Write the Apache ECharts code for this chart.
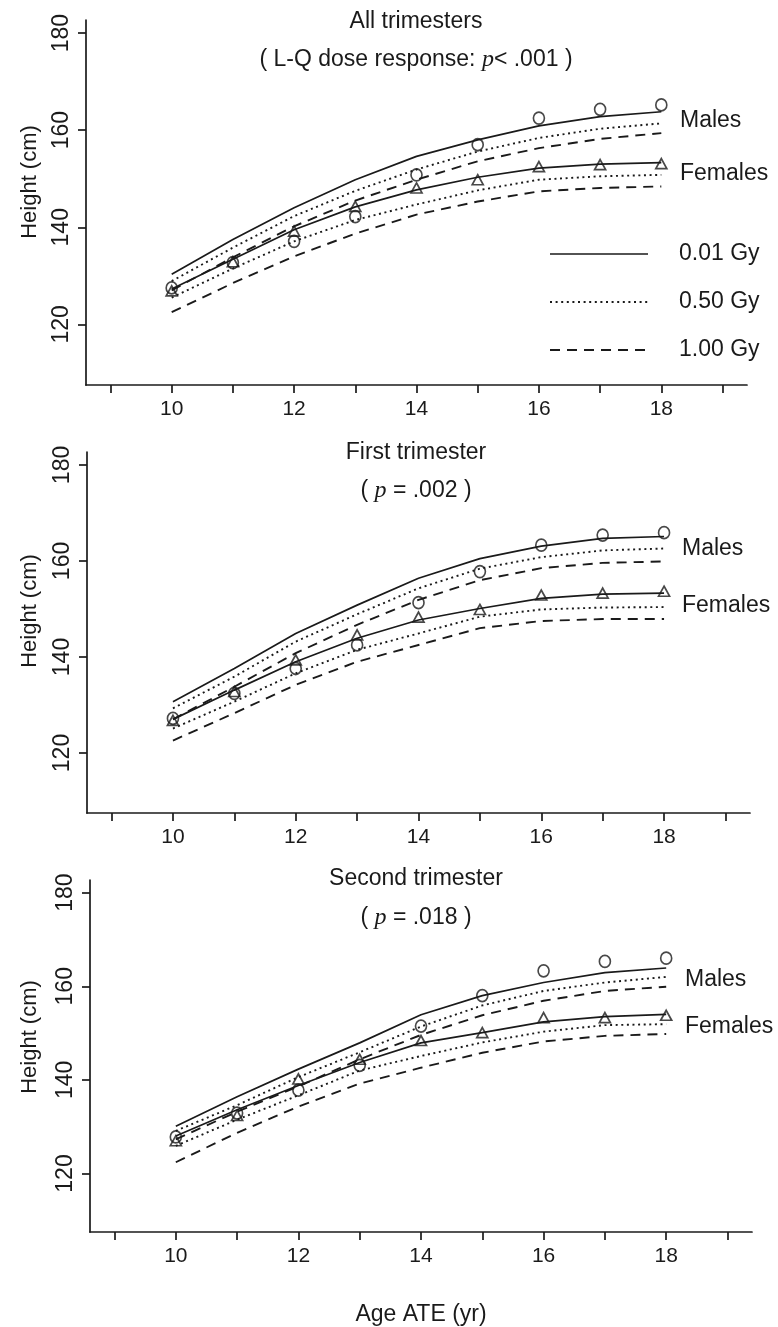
<!DOCTYPE html>
<html>
<head>
<meta charset="utf-8">
<script src="https://cdn.jsdelivr.net/npm/echarts@6/dist/echarts.min.js"></script>
<style>
html,body{margin:0;padding:0;background:#fff;}
#chart{width:778px;height:1327px;}
</style>
</head>
<body>
<div id="chart"></div>
<script>
// ---- data ----
const ages = [10, 11, 12, 13, 14, 15, 16, 17, 18];
const xTickValues = [9, 10, 11, 12, 13, 14, 15, 16, 17, 18, 19];
const xLabelValues = [10, 12, 14, 16, 18];
const yTickValues = [120, 140, 160, 180];

const panelTitles = ['All trimesters', 'First trimester', 'Second trimester'];
const panelSubtitles = ['( L-Q dose response: {i|p}< .001 )', '( {i|p} = .002 )', '( {i|p} = .018 )'];
const doseLabels = ['0.01 Gy', '0.50 Gy', '1.00 Gy'];
const sexLabels = ['Males', 'Females'];

// Panel 1: all trimesters
const p1MaleObs     = [127.5, 132.7, 137.1, 142.2, 150.8, 157.0, 162.5, 164.3, 165.2];
const p1FemaleObs   = [126.9, 132.9, 139.2, 144.3, 148.1, 149.8, 152.5, 152.9, 153.1];
const p1Male001     = [130.3, 137.5, 144.0, 149.8, 154.6, 158.0, 160.9, 162.8, 163.8];
const p1Male050     = [128.9, 135.8, 142.3, 147.5, 151.9, 155.6, 158.4, 160.3, 161.4];
const p1Male100     = [127.0, 133.8, 140.2, 145.5, 149.8, 153.6, 156.3, 158.2, 159.4];
const p1Female001   = [127.3, 133.4, 139.5, 144.2, 147.7, 150.3, 152.2, 153.0, 153.3];
const p1Female050   = [125.5, 131.5, 137.1, 141.5, 144.7, 147.6, 149.8, 150.5, 150.8];
const p1Female100   = [122.5, 128.5, 134.0, 138.7, 142.6, 145.3, 147.4, 148.1, 148.4];

// Panel 2: first trimester
const p2MaleObs     = [127.2, 132.4, 137.6, 142.5, 151.3, 157.8, 163.3, 165.4, 165.9];
const p2FemaleObs   = [126.8, 132.8, 139.4, 144.6, 148.3, 149.9, 152.9, 153.3, 153.7];
const p2Male001     = [130.7, 137.6, 144.9, 150.8, 156.4, 160.5, 163.1, 164.7, 165.1];
const p2Male050     = [129.3, 135.9, 143.2, 148.9, 154.3, 158.4, 160.8, 162.2, 162.6];
const p2Male100     = [127.0, 133.8, 140.8, 146.7, 151.9, 156.0, 158.5, 159.6, 159.9];
const p2Female001   = [127.0, 133.1, 139.0, 143.9, 147.7, 150.1, 152.2, 153.1, 153.3];
const p2Female050   = [125.1, 130.7, 136.6, 141.5, 144.9, 148.4, 149.9, 150.3, 150.4];
const p2Female100   = [122.6, 128.3, 134.2, 139.0, 142.5, 146.0, 147.5, 147.9, 147.9];

// Panel 3: second trimester
const p3MaleObs     = [127.8, 132.9, 137.8, 143.1, 151.5, 158.0, 163.3, 165.3, 166.0];
const p3FemaleObs   = [127.0, 132.4, 140.2, 144.4, 148.4, 150.1, 153.3, 153.3, 153.8];
const p3Male001     = [130.1, 136.4, 142.3, 147.9, 153.9, 158.0, 160.8, 162.9, 163.9];
const p3Male050     = [129.1, 134.6, 140.6, 145.9, 151.4, 155.9, 159.0, 160.8, 162.0];
const p3Male100     = [127.3, 133.2, 138.6, 144.4, 149.6, 153.8, 156.9, 159.0, 159.9];
const p3Female001   = [128.0, 133.6, 138.8, 143.7, 147.9, 150.1, 152.4, 153.5, 154.0];
const p3Female050   = [125.9, 131.5, 136.7, 142.0, 145.1, 148.0, 150.3, 151.7, 151.9];
const p3Female100   = [122.4, 128.7, 134.3, 139.2, 142.6, 145.8, 148.2, 149.4, 149.8];

// ---- styling / layout ----
const INK = '#1a1a1a';
const FONT = '"Liberation Sans", Arial, Helvetica, sans-serif';
const SERIF = '"Liberation Serif", "Times New Roman", serif';
const DASHES = ['solid', [2, 3.6], [10, 7]];
const TXT = 23;

const panels = [
  {obs: [p1MaleObs, p1FemaleObs], fits: [[p1Male001, p1Male050, p1Male100], [p1Female001, p1Female050, p1Female100]],
   grid: {left: 86, top: 20, width: 661, height: 365}, titleY: 22, subY: 60, nameY: 182,
   sexX: 680, sexY: [121, 174]},
  {obs: [p2MaleObs, p2FemaleObs], fits: [[p2Male001, p2Male050, p2Male100], [p2Female001, p2Female050, p2Female100]],
   grid: {left: 87, top: 452, width: 663, height: 361}, titleY: 453, subY: 491, nameY: 611,
   sexX: 682, sexY: [549, 606]},
  {obs: [p3MaleObs, p3FemaleObs], fits: [[p3Male001, p3Male050, p3Male100], [p3Female001, p3Female050, p3Female100]],
   grid: {left: 90, top: 880, width: 662, height: 361}, titleY: 879, subY: 918, nameY: 1037,
   sexX: 685, sexY: [980, 1027]}
];

const grids = [], xAxes = [], yAxes = [], series = [], graphics = [];

panels.forEach((p, gi) => {
  grids.push(Object.assign({containLabel: false}, p.grid));
  xAxes.push({
    type: 'value', gridIndex: gi, min: 8.6, max: 19.4,
    axisLine: {show: true, onZero: false, lineStyle: {color: INK, width: 1.7}},
    axisTick: {show: true, customValues: xTickValues, length: 8, lineStyle: {color: INK, width: 1.7}},
    axisLabel: {show: true, customValues: xLabelValues, margin: 14, color: INK, fontSize: 21, fontFamily: FONT},
    splitLine: {show: false},
    name: gi === 2 ? 'Age ATE (yr)' : '',
    nameLocation: 'middle', nameGap: 71,
    nameTextStyle: {color: INK, fontSize: TXT, fontFamily: FONT}
  });
  yAxes.push({
    type: 'value', gridIndex: gi, min: 107.5, max: 182.7,
    axisLine: {show: true, onZero: false, lineStyle: {color: INK, width: 1.7}},
    axisTick: {show: true, customValues: yTickValues, length: 8, lineStyle: {color: INK, width: 1.7}},
    axisLabel: {show: true, customValues: yTickValues, rotate: 90, margin: 13, color: INK, fontSize: 23, fontFamily: FONT},
    splitLine: {show: false}
  });

  // fitted curves
  p.fits.forEach((sexFits, si) => {
    sexFits.forEach((vals, di) => {
      series.push({
        type: 'line', xAxisIndex: gi, yAxisIndex: gi,
        name: sexLabels[si] + ' ' + doseLabels[di],
        data: ages.map((a, i) => [a, vals[i]]),
        showSymbol: false, symbol: 'none', smooth: false, silent: true,
        lineStyle: {color: INK, width: di === 0 ? 1.7 : 1.9, type: DASHES[di]},
        z: 2
      });
    });
  });
  // observed means
  p.obs.forEach((vals, si) => {
    series.push({
      type: 'scatter', xAxisIndex: gi, yAxisIndex: gi,
      name: sexLabels[si] + ' observed',
      data: ages.map((a, i) => [a, vals[i]]),
      symbol: si === 0 ? 'circle' : 'triangle',
      symbolSize: si === 0 ? [11, 12] : [11, 10],
      itemStyle: {color: 'rgba(255,255,255,0)', borderColor: INK, borderWidth: 1.7},
      silent: true, z: 3
    });
  });

  // titles
  const cx = 416;
  graphics.push({type: 'text', x: cx, y: p.titleY, silent: true,
    style: {text: panelTitles[gi], fill: INK, fontSize: TXT, fontFamily: FONT, align: 'center', verticalAlign: 'middle'}});
  graphics.push({type: 'text', x: cx, y: p.subY, silent: true,
    style: {text: panelSubtitles[gi], fill: INK, fontSize: TXT, fontFamily: FONT, align: 'center', verticalAlign: 'middle',
      rich: {i: {fontStyle: 'italic', fontFamily: SERIF, fontSize: 24, fill: INK}}}});
  // y axis name
  graphics.push({type: 'text', x: 30, y: p.nameY, rotation: Math.PI / 2, silent: true,
    style: {text: 'Height (cm)', fill: INK, fontSize: 22, fontFamily: FONT, align: 'center', verticalAlign: 'middle'}});
  // sex labels
  sexLabels.forEach((s, si) => {
    graphics.push({type: 'text', x: p.sexX, y: p.sexY[si], silent: true,
      style: {text: s, fill: INK, fontSize: TXT, fontFamily: FONT, align: 'left', verticalAlign: 'middle'}});
  });
});

// dose key in the first panel
const keyY = [254, 302, 350];
doseLabels.forEach((d, di) => {
  graphics.push({type: 'line', silent: true,
    shape: {x1: 550, y1: keyY[di], x2: 648, y2: keyY[di]},
    style: {stroke: INK, lineWidth: di === 0 ? 1.7 : 1.9, lineDash: di === 0 ? null : DASHES[di]}});
  graphics.push({type: 'text', x: 679, y: keyY[di], silent: true,
    style: {text: d, fill: INK, fontSize: TXT, fontFamily: FONT, align: 'left', verticalAlign: 'middle'}});
});

const chart = echarts.init(document.getElementById('chart'), null, {renderer: 'canvas'});
chart.setOption({
  backgroundColor: '#ffffff',
  animation: false,
  grid: grids,
  xAxis: xAxes,
  yAxis: yAxes,
  series: series,
  graphic: graphics
});
</script>
</body>
</html>
